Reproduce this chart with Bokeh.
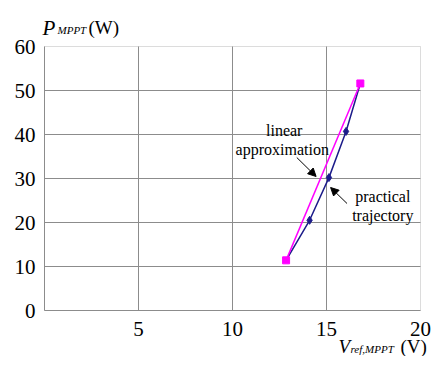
from bokeh.plotting import figure
from bokeh.models import Range1d, FixedTicker, Label, Arrow, NormalHead, BoxAnnotation
from bokeh.embed import file_html
from bokeh.resources import INLINE

# ---- data ----
lin_v = [12.85, 16.8]
lin_p = [11.4, 51.6]
prac_v = [12.85, 14.1, 15.13, 16.04, 16.8]
prac_p = [11.4, 20.5, 30.2, 40.7, 51.6]
x_ticks = [5, 10, 15, 20]
y_ticks = [0, 10, 20, 30, 40, 50, 60]
x_lim = (0, 20)
y_lim = (0, 60)

FONT = "Liberation Serif"
GRID = "#8c8c8c"

# ---- layout (canvas pixels) ----
W, H = 431, 356
BOX_L, BOX_R, BOX_T, BOX_B = 44, 420, 46, 310
kx = (BOX_R - BOX_L) / (x_lim[1] - x_lim[0])
ky = (BOX_B - BOX_T) / (y_lim[1] - y_lim[0])
xr = Range1d(x_lim[0] - BOX_L / kx, x_lim[1] + (W - BOX_R) / kx)
yr = Range1d(y_lim[0] - (H - BOX_B) / ky, y_lim[1] + BOX_T / ky)

p = figure(width=W, height=H, output_backend="svg", toolbar_location=None,
           x_range=xr, y_range=yr, min_border=0, title=None)
p.background_fill_color = "white"
p.border_fill_color = "white"
p.outline_line_color = None
p.xgrid.visible = False
p.ygrid.visible = False

for ax in (p.xaxis[0], p.yaxis[0]):
    ax.axis_line_color = GRID
    ax.major_tick_line_color = None
    ax.minor_tick_line_color = None
    ax.major_label_text_font = FONT
    ax.major_label_text_font_size = "21px"
    ax.major_label_text_color = "black"
p.xaxis.fixed_location = y_lim[0]
p.yaxis.fixed_location = x_lim[0]
p.xaxis.bounds = x_lim
p.yaxis.bounds = y_lim
p.xaxis.ticker = FixedTicker(ticks=x_ticks)
p.yaxis.ticker = FixedTicker(ticks=y_ticks)
p.xaxis.major_label_standoff = 5
p.yaxis.major_label_standoff = 3

# grid lines and plot box, from the tick lists
gx = x_ticks[:-1]
gy = y_ticks[1:-1]
p.segment(x0=gx, y0=[y_lim[0]] * len(gx), x1=gx, y1=[y_lim[1]] * len(gx),
          line_color=GRID, line_width=1)
p.segment(x0=[x_lim[0]] * len(gy), y0=gy, x1=[x_lim[1]] * len(gy), y1=gy,
          line_color=GRID, line_width=1)
p.add_layout(BoxAnnotation(left=x_lim[0], right=x_lim[1], bottom=y_lim[0], top=y_lim[1],
                           fill_alpha=0, line_color=GRID, line_width=1, level="underlay"))

# series
p.line(prac_v, prac_p, line_color="#1c1c8a", line_width=1.5)
p.scatter(prac_v[1:-1], prac_p[1:-1], marker="diamond", size=8, color="#1c1c8a")
p.line(lin_v, lin_p, line_color="#ff00ff", line_width=1.5)
p.scatter(lin_v, lin_p, marker="square", size=7, color="#ff00ff")

# reference-pixel -> data (reference scale, for in-plot notes)
def dx(px):
    return (px - 44) / 19.45

def dy(py):
    return (310 - py) / 4.4

# canvas-pixel -> data (for titles outside the box)
def cx(px):
    return xr.start + px / kx

def cy(py):
    return yr.end - py / ky

def lab(text, x, y, size, style="normal", align="left"):
    p.add_layout(Label(x=x, y=y, text=text, text_font=FONT,
                       text_font_size=size, text_font_style=style,
                       text_align=align, text_baseline="alphabetic",
                       text_color="black"))

# annotations
lab("linear", dx(292), dy(130), "16px", align="center")
lab("approximation", dx(290), dy(149), "16px", align="center")
lab("practical", dx(394), dy(196), "16px", align="center")
lab("trajectory", dx(394), dy(215), "16px", align="center")

p.add_layout(Arrow(end=NormalHead(size=8, fill_color="black", line_color="black"),
                   x_start=dx(305), y_start=dy(157), x_end=dx(325), y_end=dy(176),
                   line_color="black", line_width=1))
p.add_layout(Arrow(end=NormalHead(size=8, fill_color="black", line_color="black"),
                   x_start=dx(357), y_start=dy(203), x_end=dx(340), y_end=dy(187),
                   line_color="black", line_width=1))

# axis titles
lab("P", cx(42), cy(27), "21px", style="italic")
lab("MPPT", cx(57), cy(29), "11px", style="italic")
lab("(W)", cx(88), cy(27), "19px")
lab("V", cx(338), cy(346), "19px", style="italic")
lab("ref,MPPT", cx(350), cy(348), "11px", style="italic")
lab("(V)", cx(400), cy(346), "19px")

open("out.html", "w").write(file_html(p, INLINE))
